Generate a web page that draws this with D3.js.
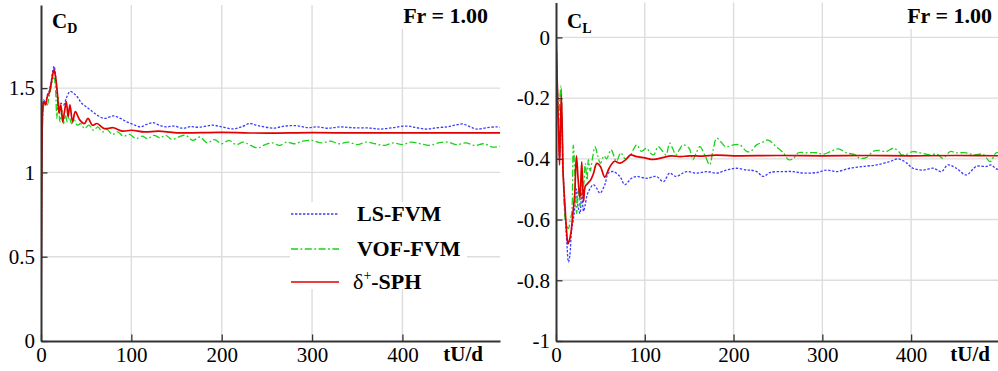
<!DOCTYPE html>
<html><head><meta charset="utf-8">
<script src="https://cdn.jsdelivr.net/npm/d3@7"></script>
<style>html,body{margin:0;padding:0;background:#fff;overflow:hidden}
svg text{font-family:'Liberation Serif','Times New Roman',Times,serif;}</style>
</head><body>
<svg id="c" width="998" height="371"></svg>
<script>
// ---------- DATA ----------
const seriesNames = ["LS-FVM", "VOF-FVM", "SPH"];
const xTicks = [0, 100, 200, 300, 400];
const cdTicks = [0, 0.5, 1, 1.5];
const clTicks = [-1, -0.8, -0.6, -0.4, -0.2, 0];
const frLabel = "Fr = 1.00";

// C_D : LS-FVM
const cdLsT = [0,0.5,1,2,3,5,7,9,11,13,14.5,16,18,20,22,25,28,32,36,40,45,50,57,62,70,80,88,95,102,110,117,124,131,139,147,157,165,175,190,200,213,222,231,240,257,270,283,295,305,318,330,345,364,375,390,405,416,427,438,449,458,467,475,482,493,504,508];
const cdLsV = [0.1,0.6,1.1,1.38,1.43,1.41,1.46,1.48,1.53,1.60,1.63,1.58,1.45,1.36,1.41,1.40,1.44,1.48,1.47,1.45,1.41,1.39,1.36,1.34,1.32,1.335,1.32,1.30,1.285,1.27,1.285,1.295,1.28,1.27,1.275,1.262,1.272,1.268,1.28,1.27,1.258,1.27,1.29,1.278,1.263,1.275,1.277,1.266,1.27,1.262,1.27,1.265,1.263,1.257,1.266,1.275,1.265,1.257,1.265,1.27,1.28,1.287,1.27,1.257,1.265,1.27,1.268];
// C_D : VOF-FVM
const cdVofT = [0,0.5,1,2,3,5,7,9,11,13,14.5,16,17.5,19,21,23,25,27,29,31,34,37,40,44,48,53,58,63,68,73,79,85,91,98,105,112,118,125,132,138,145,152,160,168,176,184,192,200,208,216,224,232,240,248,256,264,272,280,290,300,310,320,330,340,350,360,370,380,390,400,410,420,430,440,450,460,470,480,490,500,508];
const cdVofV = [0.05,0.55,1.0,1.35,1.40,1.42,1.40,1.45,1.50,1.55,1.56,1.50,1.32,1.45,1.30,1.37,1.29,1.34,1.30,1.33,1.29,1.31,1.28,1.29,1.26,1.28,1.25,1.27,1.24,1.255,1.225,1.24,1.215,1.225,1.20,1.215,1.20,1.22,1.205,1.22,1.195,1.21,1.22,1.19,1.21,1.175,1.195,1.17,1.19,1.165,1.18,1.16,1.145,1.165,1.175,1.16,1.18,1.17,1.185,1.19,1.175,1.185,1.17,1.18,1.165,1.18,1.17,1.16,1.175,1.165,1.18,1.17,1.16,1.175,1.18,1.165,1.175,1.16,1.17,1.15,1.155];
// C_D : delta+-SPH
const cdSphT = [0,0.5,1,2,3,5,7,9,11,13,14.5,16,18,20,22,24,26,28,30,32,35,38,43,48,52,57,62,70,80,90,100,115,130,150,200,250,300,350,400,450,508];
const cdSphV = [0.1,0.6,1.1,1.38,1.42,1.40,1.45,1.47,1.52,1.58,1.61,1.57,1.48,1.35,1.40,1.30,1.36,1.42,1.33,1.40,1.30,1.36,1.31,1.29,1.32,1.28,1.29,1.26,1.265,1.245,1.25,1.24,1.245,1.235,1.237,1.233,1.236,1.234,1.235,1.234,1.235];

// C_L : LS-FVM
const clLsT = [0,1,2,3,4,5,6,7,9,11,12.5,14,15.5,17.6,19.5,21.4,23,25,27,29,31,33,35,38,42,45.7,49.5,55,59,64.5,72,77.5,85,91,102,113,121,128,135,147,158,170,181,192,203,215,218.5,226,233.5,241,256,267,279,294,305,316,331,346,361,376,385.5,395,402,413.5,425,434,441.5,451,462,473.6,485,490,497,508];
const clLsV = [0,-0.1,-0.2,-0.3,-0.4,-0.32,-0.25,-0.33,-0.5,-0.62,-0.69,-0.74,-0.72,-0.633,-0.6,-0.556,-0.5,-0.56,-0.58,-0.51,-0.573,-0.55,-0.52,-0.50,-0.485,-0.496,-0.513,-0.485,-0.447,-0.442,-0.458,-0.485,-0.464,-0.458,-0.464,-0.458,-0.475,-0.447,-0.458,-0.442,-0.447,-0.442,-0.447,-0.437,-0.431,-0.437,-0.437,-0.442,-0.458,-0.445,-0.442,-0.442,-0.447,-0.445,-0.437,-0.442,-0.431,-0.425,-0.42,-0.409,-0.40,-0.414,-0.431,-0.437,-0.431,-0.442,-0.42,-0.431,-0.453,-0.425,-0.425,-0.42,-0.434,-0.43];
// C_L : VOF-FVM
const clVofT = [0,1,2,3,4,5.6,7,8.5,10,12,14,16,17.6,19.5,21.4,23.3,25,27,29,31,33,35,36.5,38.5,41,44,47,50,54,57,62,68,73,78,83,87,91,96,102,106,110,115,120,124,128,132,135,139,143,150,154,158,162,168,173,177,181,186,191,200,207,215,219,226,233,239,248,256,262,267,273,282,294,301,309,318,327,337,342,350,357,363,372,380,386,389,395,402,410,421,429,436,444,451,462,471,481,489,496,508];
const clVofV = [0,-0.1,-0.2,-0.28,-0.22,-0.16,-0.3,-0.48,-0.59,-0.62,-0.63,-0.60,-0.58,-0.355,-0.46,-0.58,-0.50,-0.556,-0.437,-0.49,-0.415,-0.47,-0.403,-0.44,-0.40,-0.36,-0.39,-0.415,-0.39,-0.40,-0.37,-0.408,-0.38,-0.40,-0.392,-0.37,-0.354,-0.375,-0.365,-0.38,-0.387,-0.36,-0.375,-0.387,-0.348,-0.37,-0.387,-0.37,-0.354,-0.365,-0.403,-0.38,-0.36,-0.39,-0.42,-0.37,-0.332,-0.345,-0.36,-0.354,-0.354,-0.376,-0.376,-0.354,-0.345,-0.338,-0.36,-0.38,-0.403,-0.40,-0.38,-0.38,-0.38,-0.385,-0.376,-0.367,-0.38,-0.387,-0.398,-0.395,-0.376,-0.372,-0.376,-0.365,-0.376,-0.387,-0.385,-0.376,-0.38,-0.387,-0.384,-0.398,-0.376,-0.38,-0.38,-0.387,-0.385,-0.409,-0.38,-0.38];
// C_L : delta+-SPH
const clSphT = [0,1,2,3,4,5,6,7,8,10,12,13.5,15,17,19,21,23,25,27,29,31,33,36,39,42,46,50,55,60,66,72,78,84,90,100,110,120,130,140,150,165,180,200,250,300,350,400,450,508];
const clSphV = [0.02,-0.1,-0.22,-0.32,-0.42,-0.3,-0.19,-0.3,-0.45,-0.55,-0.64,-0.68,-0.67,-0.64,-0.58,-0.52,-0.39,-0.47,-0.53,-0.41,-0.54,-0.49,-0.48,-0.47,-0.45,-0.415,-0.425,-0.46,-0.43,-0.408,-0.414,-0.404,-0.387,-0.392,-0.397,-0.402,-0.396,-0.39,-0.393,-0.39,-0.391,-0.388,-0.39,-0.389,-0.39,-0.389,-0.39,-0.389,-0.39];

// ---------- STYLE ----------
const FONT = "'Liberation Serif','Times New Roman',Times,serif";
const styles = [
  {color:"#3a3aff", width:1.3, dash:"2.4,1.6"},
  {color:"#19d219", width:1.3, dash:"7,2.5,1.8,2.5"},
  {color:"#e00000", width:1.7, dash:null}
];
const svg = d3.select("#c");
const defs = svg.append("defs");

function drawPanel(p, idx){
  const x = d3.scaleLinear().domain([0, 508]).range(p.xr);
  const y = d3.scaleLinear().domain(p.yd).range([341, p.yTop]);
  const g = svg.append("g");
  const x0 = p.xr[0], x1 = p.xr[1], yb = 341, yt = p.yTop;

  // grid
  g.append("g").selectAll("line").data(xTicks.filter(d=>d>0)).join("line")
    .attr("x1",d=>x(d)).attr("x2",d=>x(d)).attr("y1",yb).attr("y2",yt)
    .attr("stroke","#dddddd").attr("stroke-width",1.4);
  g.append("g").selectAll("line").data(p.ticks.filter(d=>d!==p.yd[0])).join("line")
    .attr("y1",d=>y(d)).attr("y2",d=>y(d)).attr("x1",x0).attr("x2",x1)
    .attr("stroke","#dddddd").attr("stroke-width",1.4);

  // Fr label background + text
  g.append("rect").attr("x", p.frX-92).attr("y", yt).attr("width", 96).attr("height", 29-yt).attr("fill","#fff");
  g.append("text").attr("x", p.frX).attr("y", 23).attr("text-anchor","end")
    .style("font-family",FONT).attr("font-weight","bold").attr("font-size",22).text(frLabel);

  // legend background
  if (p.legend) {
    g.append("rect").attr("x",290).attr("y",202).attr("width",177).attr("height",87).attr("fill","#fff");
  }

  // clip
  const cid = "clip"+idx;
  defs.append("clipPath").attr("id",cid).append("rect")
    .attr("x",x0).attr("y",yt).attr("width",x1-x0).attr("height",yb-yt);

  const line = d3.line().x(d=>x(d[0])).y(d=>y(d[1])).curve(d3.curveCatmullRom.alpha(0.5));
  const lg = g.append("g").attr("clip-path",`url(#${cid})`);
  p.series.forEach((s,i)=>{
    const st = styles[i];
    lg.append("path").datum(d3.zip(s[0], s[1]))
      .attr("d", line).attr("fill","none")
      .attr("stroke", st.color).attr("stroke-width", st.width)
      .attr("stroke-dasharray", st.dash).attr("stroke-linejoin","round");
  });

  // axes
  const xMinor = d3.range(20, 500, 20).filter(d=>d%100!==0);
  const ax = g.append("g").attr("transform",`translate(0,${yb})`);
  ax.call(d3.axisBottom(x).tickValues(xMinor).tickSize(-3.5).tickSizeOuter(0).tickFormat(""));
  ax.call(d3.axisBottom(x).tickValues(xTicks).tickSize(-6.5).tickSizeOuter(0).tickPadding(6).tickFormat(d3.format("d")));
  const ay = g.append("g").attr("transform",`translate(${x0},0)`);
  const yMinor = d3.range(Math.round(p.yd[0]/p.minorStep), Math.floor(p.yd[1]/p.minorStep)+1).map(k=>+(k*p.minorStep).toFixed(3));
  ay.call(d3.axisLeft(y).tickValues(yMinor).tickSize(-3.5).tickSizeOuter(0).tickFormat(""));
  ay.call(d3.axisLeft(y).tickValues(p.ticks).tickSize(-6.5).tickSizeOuter(0).tickPadding(6)
     .tickFormat(d=>String(+d.toFixed(2))));
  [ax, ay].forEach(a=>{
    a.attr("font-family", null).attr("font-size", null);
    a.selectAll("path.domain").attr("stroke","#333").attr("stroke-width",2);
    a.selectAll(".tick line").attr("stroke","#333").attr("stroke-width",1.3);
    a.selectAll("text").style("font-family",FONT).attr("font-size",21).attr("fill","#000");
  });

  // x-axis title
  g.append("text").attr("x", p.tuX).attr("y", 361).attr("text-anchor","end")
    .style("font-family",FONT).attr("font-weight","bold").attr("font-size",21).text("tU/d");

  // coefficient label
  const t = g.append("text").attr("x", x0+11).attr("y", 28)
    .style("font-family",FONT).attr("font-weight","bold").attr("font-size",21);
  t.append("tspan").text("C");
  t.append("tspan").attr("font-size",14).attr("dy",5).text(p.sub);

  // legend
  if (p.legend) {
    const labels = [
      [{t:"LS-FVM"}],
      [{t:"VOF-FVM"}],
      [{t:"\u03b4", w:"normal"},{t:"+", sup:true, w:"normal"},{t:"-SPH", back:true}]
    ];
    const ly = [214, 249, 282];
    labels.forEach((lab,i)=>{
      const st = styles[i];
      g.append("line").attr("x1",291).attr("x2",339).attr("y1",ly[i]).attr("y2",ly[i])
        .attr("stroke",st.color).attr("stroke-width",st.width).attr("stroke-dasharray",st.dash);
      const tx = g.append("text").attr("x", i===2 ? 353 : 357).attr("y", ly[i]+7)
        .style("font-family",FONT).attr("font-weight","bold").attr("font-size",22);
      lab.forEach(part=>{
        const ts = tx.append("tspan").text(part.t);
        if (part.w) ts.attr("font-weight", part.w);
        if (part.sup) ts.attr("font-size",14).attr("dy",-9);
        if (part.back) ts.attr("dy",9);
      });
    });
  }
}

drawPanel({xr:[41,500], yd:[0,1.993], yTop:5, ticks:cdTicks, minorStep:0.1, sub:"D",
  frX:488, tuX:483, legend:true,
  series:[[cdLsT,cdLsV],[cdVofT,cdVofV],[cdSphT,cdSphV]]}, 0);
drawPanel({xr:[556,1007], yd:[-1,0.115], yTop:2.5, ticks:clTicks, minorStep:0.05, sub:"L",
  frX:992, tuX:990, legend:false,
  series:[[clLsT,clLsV],[clVofT,clVofV],[clSphT,clSphV]]}, 1);
</script>
</body></html>
